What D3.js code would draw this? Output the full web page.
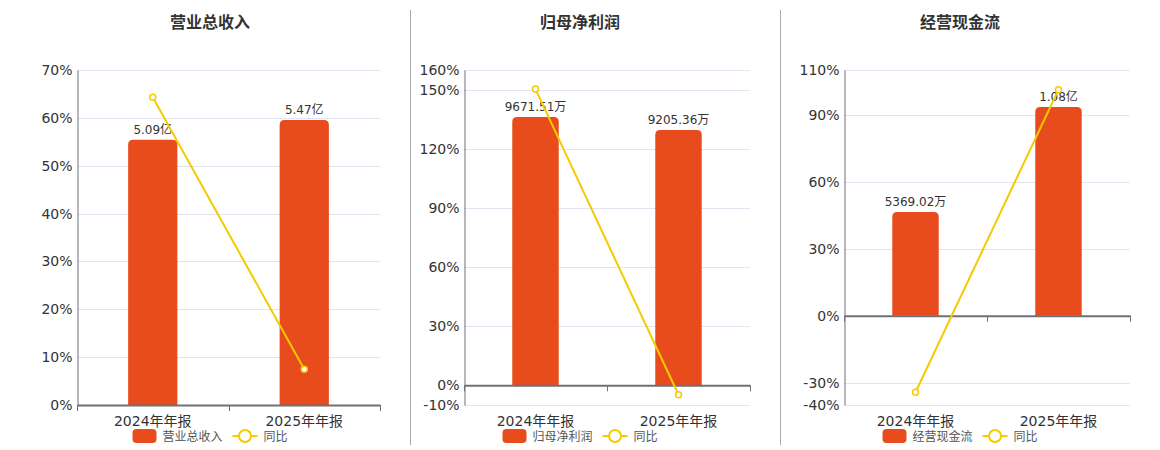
<!DOCTYPE html>
<html>
<head>
<meta charset="utf-8">
<script src="https://cdn.jsdelivr.net/npm/d3@7"></script>
<style>
  body { margin: 0; background: #fff; }
  svg { display: block; font-family: "DejaVu Sans", "Noto Sans CJK SC", sans-serif; }
</style>
</head>
<body>
<div id="chart"></div>
<script>
// categories shared by the three panels
const categories = ["2024年年报", "2025年年报"]

// 营业总收入 (亿)
const revenueValues = [5.09, 5.47]
const revenueLabels = ["5.09亿", "5.47亿"]
const revenueYoY = [64.3, 7.47]
const revenueTicks = [0, 10, 20, 30, 40, 50, 60, 70]

// 归母净利润 (万)
const profitValues = [9671.51, 9205.36]
const profitLabels = ["9671.51万", "9205.36万"]
const profitYoY = [150.3, -4.82]
const profitTicks = [-10, 0, 30, 60, 90, 120, 150, 160]

// 经营现金流 (万)
const cashValues = [5369.02, 10800]
const cashLabels = ["5369.02万", "1.08亿"]
const cashYoY = [-34.3, 101.2]
const cashTicks = [-40, -30, 0, 30, 60, 90, 110]

let svgWidth = 1160,
    svgHeight = 450

let barColor = "#E84C1D",
    lineColor = "#F5CA00",
    gridColor = "#E0E6F1",
    axisColor = "#6E7079"

let plotTop = 70, plotBottom = 405

let panels = [
  { title: "营业总收入", name: "营业总收入", values: revenueValues, labels: revenueLabels, yoy: revenueYoY, ticks: revenueTicks, barMax: 6.43, left: 77, right: 380, center: 210 },
  { title: "归母净利润", name: "归母净利润", values: profitValues, labels: profitLabels, yoy: profitYoY, ticks: profitTicks, barMax: 11368, left: 464, right: 750, center: 580 },
  { title: "经营现金流", name: "经营现金流", values: cashValues, labels: cashLabels, yoy: cashYoY, ticks: cashTicks, barMax: 12714, left: 844, right: 1130, center: 960 }
]

let svg = d3.select("#chart")
  .append("svg")
  .attr("width", svgWidth)
  .attr("height", svgHeight)

// panel dividers
svg.selectAll("line.divider")
  .data([410.5, 780.5])
  .enter()
  .append("line")
  .attr("x1", d => d).attr("x2", d => d)
  .attr("y1", 10).attr("y2", 445)
  .attr("stroke", "#aaa")

// rounded-top bar path
function barPath(x, y, w, h, r) {
  r = Math.min(r, h, w / 2)
  return `M${x},${y + h}V${y + r}Q${x},${y} ${x + r},${y}H${x + w - r}Q${x + w},${y} ${x + w},${y + r}V${y + h}Z`
}

panels.forEach(function(p) {
  let g = svg.append("g")

  let pctMin = d3.min(p.ticks), pctMax = d3.max(p.ticks)

  let xScale = d3.scaleBand()
    .domain(categories)
    .range([p.left, p.right])

  let yScale = d3.scaleLinear()
    .domain([pctMin, pctMax])
    .range([plotBottom, plotTop])

  // bar axis shares its zero with the percent axis
  let barScale = d3.scaleLinear()
    .domain([p.barMax * pctMin / pctMax, p.barMax])
    .range([plotBottom, plotTop])

  // title
  g.append("text")
    .attr("x", p.center)
    .attr("y", 28)
    .attr("text-anchor", "middle")
    .attr("font-size", 16)
    .attr("font-weight", "bold")
    .attr("fill", "#333")
    .text(p.title)

  // grid lines
  g.selectAll("line.grid")
    .data(p.ticks)
    .enter()
    .append("line")
    .attr("x1", p.left).attr("x2", p.right)
    .attr("y1", d => Math.round(yScale(d)) + 0.5)
    .attr("y2", d => Math.round(yScale(d)) + 0.5)
    .attr("stroke", gridColor)

  // y axis
  let leftAxis = d3.axisLeft(yScale)
    .tickValues(p.ticks)
    .tickFormat(d => d + "%")
    .tickSize(0)
    .tickPadding(5)
  let yAxis = g.append("g")
    .attr("transform", `translate(${p.left + 0.5}, 0)`)
    .call(leftAxis)
  yAxis.select(".domain").attr("stroke", axisColor)
  yAxis.selectAll("text")
    .attr("font-size", 14)
    .attr("fill", "#333")
    .attr("font-family", "DejaVu Sans, sans-serif")

  // bars
  let bw = xScale.bandwidth() * 0.325
  g.selectAll("path.bar")
    .data(p.values)
    .enter()
    .append("path")
    .attr("fill", barColor)
    .attr("d", (d, i) => {
      let x = xScale(categories[i]) + (xScale.bandwidth() - bw) / 2
      let y = barScale(d)
      return barPath(x, y, bw, barScale(0) - y, 5)
    })

  // bar labels
  g.selectAll("text.barlabel")
    .data(p.values)
    .enter()
    .append("text")
    .attr("x", (d, i) => xScale(categories[i]) + xScale.bandwidth() / 2)
    .attr("y", d => barScale(d) - 6)
    .attr("text-anchor", "middle")
    .attr("font-size", 12)
    .attr("fill", "#333")
    .text((d, i) => p.labels[i])

  // x axis at zero
  let bottomAxis = d3.axisBottom(xScale)
    .tickSize(0)
    .tickPadding(0)
  let xAxis = g.append("g")
    .attr("transform", `translate(0, ${yScale(0)})`)
    .call(bottomAxis)
  xAxis.select(".domain").attr("stroke", axisColor).attr("stroke-width", 2)
  xAxis.selectAll(".tick").remove()

  // ticks at band edges
  let edges = categories.map(c => xScale(c)).concat([p.right])
  g.selectAll("line.xtick")
    .data(edges)
    .enter()
    .append("line")
    .attr("x1", d => Math.round(d) + 0.5).attr("x2", d => Math.round(d) + 0.5)
    .attr("y1", yScale(0)).attr("y2", yScale(0) + 6)
    .attr("stroke", axisColor)

  // category labels under plot
  g.selectAll("text.cat")
    .data(categories)
    .enter()
    .append("text")
    .attr("x", d => xScale(d) + xScale.bandwidth() / 2)
    .attr("y", 426)
    .attr("text-anchor", "middle")
    .attr("font-size", 14)
    .attr("fill", "#333")
    .text(d => d)

  // yoy line
  let line = d3.line()
    .x((d, i) => xScale(categories[i]) + xScale.bandwidth() / 2)
    .y(d => yScale(d))
  g.append("path")
    .datum(p.yoy)
    .attr("d", line)
    .attr("fill", "none")
    .attr("stroke", lineColor)
    .attr("stroke-width", 2)
  g.selectAll("circle.pt")
    .data(p.yoy)
    .enter()
    .append("circle")
    .attr("cx", (d, i) => xScale(categories[i]) + xScale.bandwidth() / 2)
    .attr("cy", d => yScale(d))
    .attr("r", 3)
    .attr("fill", "#fff")
    .attr("stroke", lineColor)
    .attr("stroke-width", 1.5)

  // legend
  let nameWidth = p.name.length * 12
  let legendWidth = 24 + 6 + nameWidth + 10 + 25 + 6 + 24
  let lx = p.center - legendWidth / 2
  let legend = g.append("g").attr("transform", `translate(${lx}, 0)`)
  legend.append("rect")
    .attr("x", 0).attr("y", 429)
    .attr("width", 24).attr("height", 14)
    .attr("rx", 4)
    .attr("fill", barColor)
  legend.append("text")
    .attr("x", 30).attr("y", 441)
    .attr("font-size", 12)
    .attr("fill", "#555")
    .text(p.name)
  let sx = 30 + nameWidth + 10
  legend.append("line")
    .attr("x1", sx).attr("x2", sx + 25)
    .attr("y1", 436).attr("y2", 436)
    .attr("stroke", lineColor)
    .attr("stroke-width", 2)
  legend.append("circle")
    .attr("cx", sx + 12.5).attr("cy", 436)
    .attr("r", 6)
    .attr("fill", "#fff")
    .attr("stroke", lineColor)
    .attr("stroke-width", 2)
  legend.append("text")
    .attr("x", sx + 31).attr("y", 441)
    .attr("font-size", 12)
    .attr("fill", "#555")
    .text("同比")
})
</script>
</body>
</html>
